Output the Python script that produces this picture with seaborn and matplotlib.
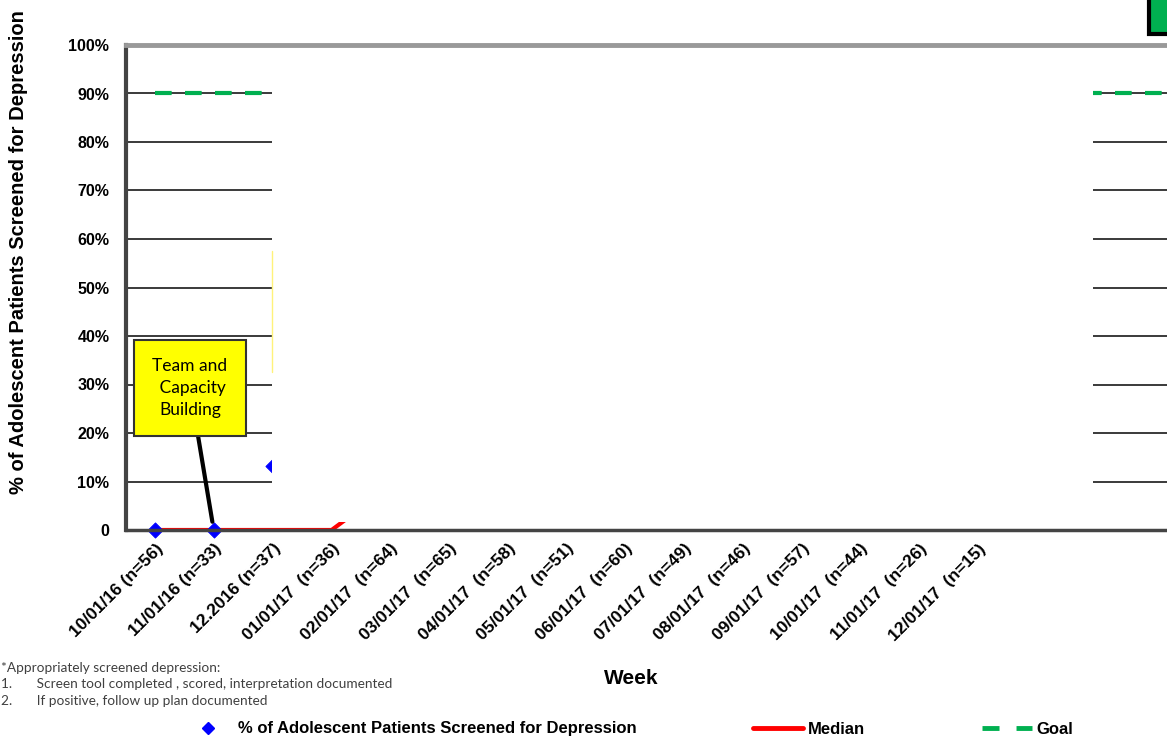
import numpy as np
import pandas as pd
import matplotlib.pyplot as plt
import matplotlib.patches as mpatches
import matplotlib.lines as mlines
import seaborn as sns

# data
months = ["10/01/16 (n=56)", "11/01/16 (n=33)", "12.2016 (n=37)", "01/01/17  (n=36)",
          "02/01/17  (n=64)", "03/01/17  (n=65)", "04/01/17  (n=58)", "05/01/17  (n=51)",
          "06/01/17  (n=60)", "07/01/17  (n=49)", "08/01/17  (n=46)", "09/01/17  (n=57)",
          "10/01/17  (n=44)", "11/01/17  (n=26)", "12/01/17  (n=15)"]
n_slots = 19  # the axis carries blank slots past the last month
screened = [0.0, 0.0, 13.2]          # % screened (visible points)
median = [0.0, 0.0, 0.0, 0.0, 9.0]   # median run line (visible part)
goal = [90.0] * n_slots
y_ticks = [0, 10, 20, 30, 40, 50, 60, 70, 80, 90, 100]
y_labels = ["0"] + [f"{v}%" for v in y_ticks[1:]]

sns.set_style("white")
plt.rcParams["font.family"] = ["Liberation Sans", "DejaVu Sans"]
plt.rcParams["text.color"] = "black"
plt.rcParams["axes.labelcolor"] = "black"
plt.rcParams["xtick.color"] = "black"
plt.rcParams["ytick.color"] = "black"

W, H = 1167, 740
fig = plt.figure(figsize=(W / 100, H / 100), dpi=100)
slot = 58.75
ax_w = n_slots * slot
ax = fig.add_axes([126 / W, 1 - 530 / H, ax_w / W, 485 / H])

df_pts = pd.DataFrame({"x": np.arange(len(screened)) + 0.5, "y": screened})
df_med = pd.DataFrame({"x": np.arange(len(median)) + 0.5, "y": median})
df_goal = pd.DataFrame({"x": np.arange(n_slots) + 0.5, "y": goal})

# gridlines
for v in y_ticks[1:-1]:
    ax.axhline(v, color="#3a3a3a", lw=1.4, zorder=1)

sns.lineplot(data=df_goal, x="x", y="y", ax=ax, color="#00B050", lw=3,
             dashes=False, zorder=3)
ax.lines[-1].set_dashes([4, 3.2])
sns.lineplot(data=df_med, x="x", y="y", ax=ax, color="#FF0000", lw=3, zorder=4)
sns.scatterplot(data=df_pts, x="x", y="y", ax=ax, marker="D", s=60, color="#0000FF",
                edgecolor="#0000FF", zorder=6, clip_on=False)

ax.set_xlim(0, n_slots)
ax.set_ylim(0, 100)

# white block covering the middle of the chart
ax.add_patch(mpatches.Rectangle((2.485, 1.6), 16.46 - 2.485, 98.0, facecolor="white",
                                edgecolor="none", zorder=7))
# faint edge of a hidden box
ax.plot([2.485, 2.485], [32.5, 57.5], color="#FFF27A", lw=1, zorder=8)

# annotation box
ax.annotate("Team and\n Capacity\nBuilding", xy=(1.47, 1.7), xytext=(1.09, 29.3),
            ha="center", va="center", fontsize=12.5, family=["Lato", "DejaVu Sans"],
            linespacing=1.45,
            bbox=dict(boxstyle="square,pad=1.05", fc="#FFFF00", ec="#333333", lw=1.5),
            arrowprops=dict(arrowstyle="-", color="black", lw=3, shrinkA=0, shrinkB=0),
            zorder=9)

# ticks
ax.set_yticks(y_ticks)
ax.set_yticklabels(y_labels, fontsize=11.5, fontweight="bold")
ax.set_xticks(np.arange(len(months)) + 0.5)
ax.set_xticklabels(months, rotation=45, ha="right", va="top", rotation_mode="anchor",
                   fontsize=12.5, fontweight="bold")
ax.set_xticks(np.arange(n_slots + 1), minor=True)
ax.tick_params(axis="x", which="major", length=0, pad=8)
ax.tick_params(axis="x", which="minor", length=7, width=1.5, color="#333333", direction="out")
ax.tick_params(axis="y", length=7, width=1.5, color="#333333", direction="out", pad=5)
ax.set_xlabel("")
ax.set_ylabel("% of Adolescent Patients Screened for Depression", fontsize=14.5,
              fontweight="bold")
ax.yaxis.set_label_coords(-(126 - 28) / ax_w, (530 - 252) / 485)

for side, col, lw in [("left", "#444444", 3), ("bottom", "#444444", 2.5),
                      ("top", "#999999", 3.5), ("right", "#999999", 3.5)]:
    ax.spines[side].set_color(col)
    ax.spines[side].set_linewidth(lw)
    ax.spines[side].set_zorder(10)

fig.text(631 / W, 1 - 679 / H, "Week", ha="center", va="center", fontsize=15,
         fontweight="bold")

notes = ["*Appropriately screened depression:",
         "1.       Screen tool completed , scored, interpretation documented",
         "2.       If positive, follow up plan documented"]
for i, t in enumerate(notes):
    fig.text(0.001, 1 - (668 + 16.5 * i) / H, t, ha="left", va="center", fontsize=9.8,
             color="#404040", family=["Lato", "DejaVu Sans"])

# green box peeking in at top right
fig.patches.append(mpatches.Rectangle((1149 / W, 1 - 34 / H), 40 / W, 40 / H,
                                      transform=fig.transFigure, fc="#00B050",
                                      ec="black", lw=3))

handles = [
    mlines.Line2D([], [], color="#0000FF", marker="D", ms=6, ls="none"),
    mlines.Line2D([], [], color="#FF0000", lw=3.5),
    mlines.Line2D([], [], color="#00B050", lw=3.5, dashes=[3.5, 3.5]),
]
labels = ["% of Adolescent Patients Screened for Depression", "Median", "Goal"]
fig.legend(handles, labels, loc="center", bbox_to_anchor=(628 / W, 1 - 729 / H), ncol=3,
           frameon=False, prop={"weight": "bold", "size": 12}, handlelength=3.0,
           handletextpad=0.3, columnspacing=7.0)

plt.savefig("out.png", dpi=100)
